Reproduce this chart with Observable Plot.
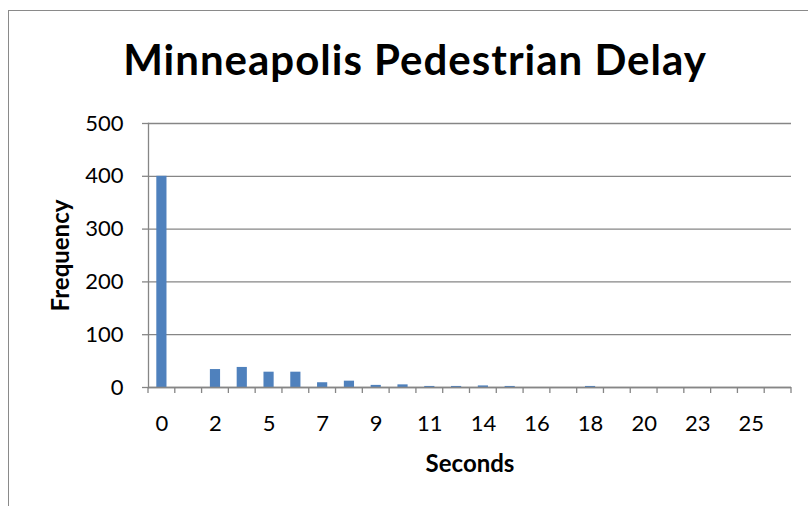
<!DOCTYPE html>
<html><head><meta charset="utf-8">
<script src="https://cdn.jsdelivr.net/npm/d3@7"></script>
<script src="https://cdn.jsdelivr.net/npm/@observablehq/plot@0.6"></script>
<style>
body{margin:0;background:#fff;}
#wrap{position:relative;width:808px;height:506px;overflow:hidden;background:#fff;}
#frame{position:absolute;left:8px;top:10px;width:830px;height:530px;border:1.3px solid #8a8a8a;box-sizing:border-box;}
#title{position:absolute;left:22px;top:33.5px;width:786px;text-align:center;font-family:Lato,"Open Sans",sans-serif;font-weight:bold;font-size:42px;line-height:50.4px;letter-spacing:1px;color:#000;white-space:nowrap;}
#chart{position:absolute;left:0;top:100px;}
</style>
</head><body>
<div id="wrap"><div id="frame"></div><div id="title">Minneapolis Pedestrian Delay</div><div id="chart"></div></div>
<script>
const categories = ["0","1","2","3","5","6","7","8","9","10","11","12","14","15","16","17","18","19","20","21","23","24","25","26"];
const frequencies = [400,0,34,38,29,29,9,12,4,5,2,2,3,2,0,0,2,0,0,0,0,0,0,0];
const labeledCategories = ["0","2","5","7","9","11","14","16","18","20","23","25"];
const yTicks = [0,100,200,300,400,500];
const data = categories.map((c,i)=>({cat:c, freq:frequencies[i]}));

function boundaryTicks(index, scales, values, dims) {
  const x = scales.x, y = scales.y;
  const step = x(categories[1]) - x(categories[0]);
  const y0 = y(0);
  const g = d3.create("svg:g");
  for (let i = 0; i <= categories.length; i++) {
    const bx = dims.marginLeft + i*step;
    g.append("line").attr("x1",bx).attr("x2",bx).attr("y1",y0).attr("y2",y0+6)
      .attr("stroke","#868686").attr("stroke-width",1.3);
  }
  return g.node();
}

const chart = Plot.plot({
  width: 808, height: 406,
  marginTop: 23, marginBottom: 119, marginLeft: 148, marginRight: 17,
  style: {fontFamily: "Lato, 'Open Sans', sans-serif", fontSize: "22px", color: "#000", background: "transparent", overflow: "visible"},
  x: {type: "band", domain: categories, paddingInner: 0.62, paddingOuter: 0.31, align: 0.5, round: false},
  y: {domain: [0, 500]},
  marks: [
    Plot.gridY(yTicks, {stroke: "#868686", strokeOpacity: 1, strokeWidth: 1.3}),
    Plot.barY(data, {x: "cat", y: "freq", fill: "#4F81BD"}),
    Plot.frame({anchor: "left", stroke: "#868686", strokeWidth: 1.3}),
    Plot.ruleY([0], {stroke: "#868686", strokeWidth: 1.3}),
    Plot.axisY(yTicks, {tickSize: 6, tickPadding: 19, stroke: "#868686", strokeWidth: 1.3, fontSize: 22, fill: "#000", label: null}),
    boundaryTicks,
    Plot.axisX(labeledCategories, {tickSize: 0, tickPadding: 28, fontSize: 22, fill: "#000", label: null}),
    Plot.text(["Frequency"], {frameAnchor: "left", rotate: -90, dx: -87, textAnchor: "middle", fontWeight: "bold", fontSize: 24, fill: "#000", lineAnchor: "middle"}),
    Plot.text(["Seconds"], {frameAnchor: "bottom", dy: 77, fontWeight: "bold", fontSize: 24, fill: "#000", lineAnchor: "middle"})
  ]
});
document.getElementById("chart").appendChild(chart);
</script>
</body></html>
